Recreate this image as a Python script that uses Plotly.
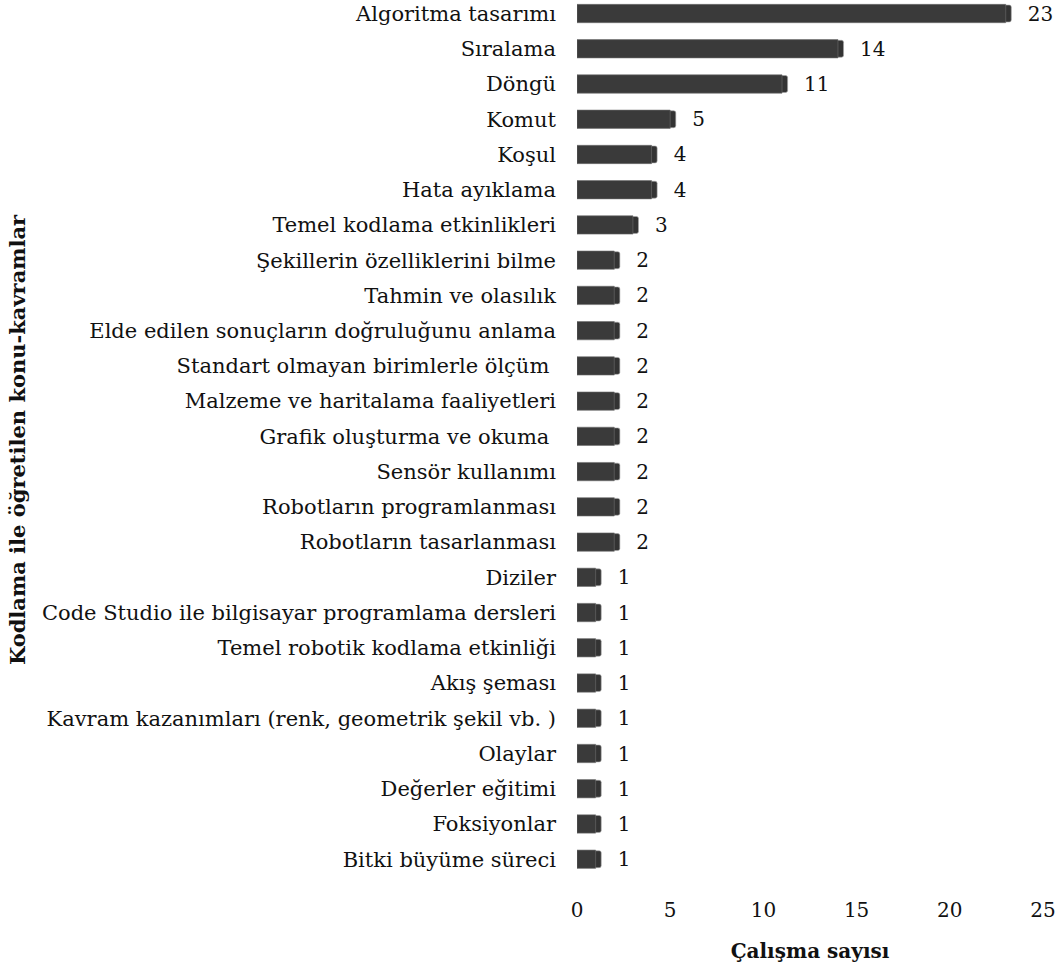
import plotly.graph_objects as go

# Topics / concepts taught through coding and the number of studies for each
konular = [
    "Algoritma tasarımı",
    "Sıralama",
    "Döngü",
    "Komut",
    "Koşul",
    "Hata ayıklama",
    "Temel kodlama etkinlikleri",
    "Şekillerin özelliklerini bilme",
    "Tahmin ve olasılık",
    "Elde edilen sonuçların doğruluğunu anlama",
    "Standart olmayan birimlerle ölçüm ",
    "Malzeme ve haritalama faaliyetleri",
    "Grafik oluşturma ve okuma ",
    "Sensör kullanımı",
    "Robotların programlanması",
    "Robotların tasarlanması",
    "Diziler",
    "Code Studio ile bilgisayar programlama dersleri",
    "Temel robotik kodlama etkinliği",
    "Akış şeması",
    "Kavram kazanımları (renk, geometrik şekil vb. )",
    "Olaylar",
    "Değerler eğitimi",
    "Foksiyonlar",
    "Bitki büyüme süreci",
]
calisma_sayisi = [23, 14, 11, 5, 4, 4, 3, 2, 2, 2, 2, 2, 2, 2, 2, 2, 1, 1, 1, 1, 1, 1, 1, 1, 1]

x_ticks = [0, 5, 10, 15, 20, 25]

FONT = "DejaVu Serif"
DEPTH = 0.4  # thickness of the shaded end face, in axis units

fig = go.Figure()

# end face that gives the bars their depth (drawn underneath)
fig.add_trace(
    go.Bar(
        x=[DEPTH] * len(calisma_sayisi),
        base=[v - 0.1 for v in calisma_sayisi],
        y=konular,
        orientation="h",
        marker=dict(color="#333333", line=dict(color="#a8a8a8", width=0.6), cornerradius=2),
        width=0.48,
        hoverinfo="skip",
        cliponaxis=False,
    )
)

# front face of each bar, with the value written past its end
fig.add_trace(
    go.Bar(
        x=calisma_sayisi,
        y=konular,
        orientation="h",
        marker=dict(color="#3a3a3a", line=dict(color="#6e6e6e", width=0.6), cornerradius=2),
        width=0.52,
        text=calisma_sayisi,
        texttemplate="   %{x}",
        textposition="outside",
        constraintext="none",
        textfont=dict(family=FONT, size=20, color="#111111"),
        cliponaxis=False,
        hoverinfo="x+y",
    )
)

n = len(konular)
fig.update_layout(
    width=1059,
    height=969,
    margin=dict(l=577, r=16, t=0, b=89),
    barmode="overlay",
    plot_bgcolor="white",
    paper_bgcolor="white",
    showlegend=False,
    font=dict(family=FONT, size=21, color="#111111"),
    xaxis=dict(
        range=[0, 25],
        tickvals=x_ticks,
        showgrid=False,
        zeroline=False,
        showline=False,
        ticks="",
        ticklabelstandoff=16,
        tickfont=dict(family=FONT, size=20),
        title=dict(
            text="<b>Çalışma sayısı</b>",
            font=dict(family=FONT, size=20),
            standoff=22,
        ),
    ),
    yaxis=dict(
        type="category",
        categoryorder="array",
        categoryarray=konular,
        range=[n - 1 + 0.59, -0.384],
        showgrid=False,
        zeroline=False,
        showline=False,
        ticks="",
        ticklabelstandoff=20,
        tickfont=dict(family=FONT, size=21),
        title=dict(
            text="<b>Kodlama ile öğretilen konu-kavramlar</b>",
            font=dict(family=FONT, size=21),
            standoff=10,
        ),
    ),
)

fig.write_html("out.html")
